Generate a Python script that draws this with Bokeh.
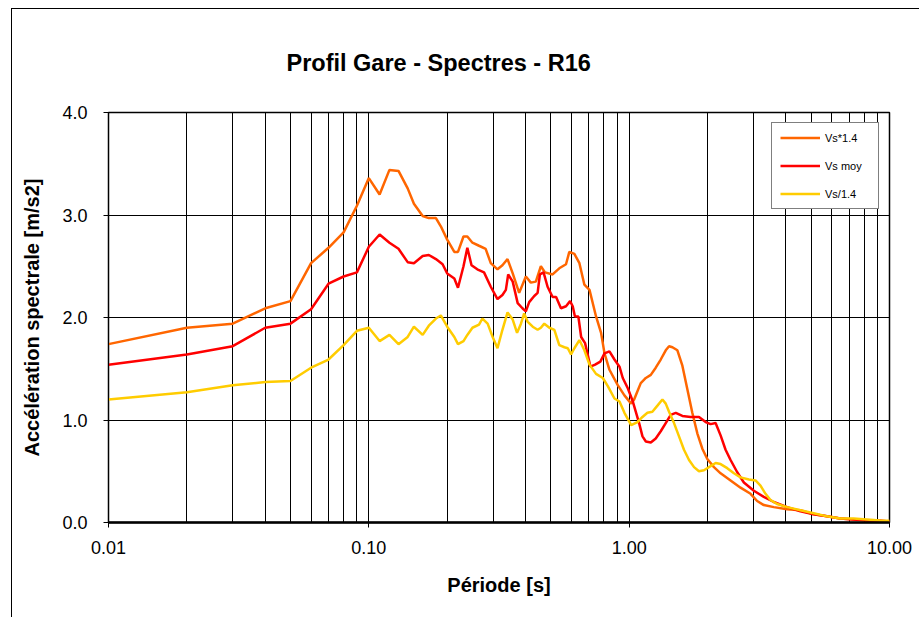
from bokeh.plotting import figure
from bokeh.models import (Range1d, FixedTicker, PrintfTickFormatter, Legend,
                          LegendItem, Title)
from bokeh.embed import file_html
from bokeh.resources import INLINE

# ---------------- data ----------------
x_ticks = [0.01, 0.1, 1.0, 10.0]
y_ticks = [0.0, 1.0, 2.0, 3.0, 4.0]

names = ["Vs*1.4", "Vs moy", "Vs/1.4"]
colors = ["#FF6600", "#FF0000", "#FFCC00"]

orange_T = [0.01, 0.02, 0.03, 0.04, 0.05, 0.06, 0.07, 0.08, 0.09, 0.10, 0.11, 0.12, 0.13,
            0.141, 0.149, 0.161, 0.170, 0.181, 0.189, 0.200, 0.213, 0.220, 0.231,
            0.239, 0.250, 0.265, 0.281, 0.294, 0.312, 0.326, 0.341, 0.357, 0.378,
            0.401, 0.419, 0.438, 0.458, 0.475, 0.508, 0.539, 0.572, 0.589, 0.616,
            0.644, 0.673, 0.704, 0.746, 0.780, 0.804, 0.840, 0.904, 0.959, 1.018,
            1.045, 1.076, 1.108, 1.159, 1.211, 1.265, 1.322, 1.382, 1.423, 1.466,
            1.532, 1.601, 1.673, 1.748, 1.827, 1.910, 1.996, 2.117, 2.245, 2.452,
            2.678, 2.926, 3.102, 3.290, 3.594, 4.043, 4.546, 5.115, 5.754, 6.471,
            7.280, 8.189, 9.210, 10.0]
orange_A = [1.74, 1.90, 1.94, 2.09, 2.16, 2.53, 2.68, 2.83, 3.09, 3.36, 3.20, 3.44, 3.43,
            3.26, 3.11, 2.99, 2.97, 2.97, 2.89, 2.76, 2.64, 2.64, 2.79,
            2.79, 2.73, 2.70, 2.67, 2.53, 2.47, 2.51, 2.57, 2.43, 2.24,
            2.40, 2.34, 2.35, 2.50, 2.44, 2.42, 2.48, 2.52, 2.64, 2.62,
            2.53, 2.32, 2.27, 2.01, 1.85, 1.65, 1.49, 1.34, 1.24, 1.16,
            1.20, 1.28, 1.36, 1.41, 1.44, 1.51, 1.59, 1.68, 1.72, 1.71,
            1.68, 1.53, 1.30, 1.07, 0.87, 0.72, 0.62, 0.54, 0.48, 0.41,
            0.34, 0.28, 0.21, 0.17, 0.15, 0.13, 0.12, 0.08, 0.06, 0.04,
            0.03, 0.02, 0.016, 0.01]

red_T = [0.01, 0.02, 0.03, 0.04, 0.05, 0.06, 0.07, 0.08, 0.09, 0.10, 0.11, 0.12, 0.13,
         0.141, 0.149, 0.161, 0.170, 0.181, 0.192, 0.200, 0.213, 0.220, 0.231,
         0.239, 0.248, 0.261, 0.277, 0.294, 0.312, 0.326, 0.336, 0.343, 0.357,
         0.373, 0.389, 0.401, 0.413, 0.432, 0.445, 0.454, 0.469, 0.486, 0.508,
         0.524, 0.547, 0.572, 0.593, 0.607, 0.619, 0.638, 0.654, 0.677, 0.710,
         0.740, 0.775, 0.804, 0.840, 0.878, 0.918, 0.945, 0.988, 1.033,
         1.092, 1.125, 1.159, 1.211, 1.265, 1.322, 1.382, 1.444, 1.510, 1.601,
         1.722, 1.854, 1.967, 2.055, 2.148, 2.245, 2.346, 2.452, 2.601, 2.758,
         3.013, 3.290, 3.594, 4.043, 4.546, 5.115, 5.754, 6.471, 7.280, 8.189,
         9.210, 10.0]
red_A = [1.54, 1.64, 1.72, 1.90, 1.94, 2.08, 2.33, 2.40, 2.44, 2.69, 2.81, 2.73, 2.67,
         2.54, 2.53, 2.60, 2.61, 2.57, 2.52, 2.43, 2.38, 2.29, 2.50,
         2.68, 2.51, 2.47, 2.44, 2.30, 2.18, 2.22, 2.27, 2.42, 2.35,
         2.14, 2.09, 2.06, 2.15, 2.21, 2.24, 2.42, 2.44, 2.30, 2.20,
         2.20, 2.09, 2.11, 2.16, 2.11, 2.01, 2.01, 1.81, 1.75, 1.52,
         1.54, 1.57, 1.65, 1.67, 1.59, 1.52, 1.41, 1.31, 1.18,
         0.97, 0.84, 0.79, 0.78, 0.82, 0.89, 0.97, 1.05, 1.07, 1.04,
         1.03, 1.03, 0.98, 0.96, 0.97, 0.85, 0.71, 0.61, 0.49, 0.39,
         0.31, 0.25, 0.20, 0.15, 0.11, 0.08, 0.06, 0.04, 0.03, 0.02,
         0.016, 0.01]

yellow_T = [0.01, 0.02, 0.03, 0.04, 0.05, 0.06, 0.07, 0.08, 0.09, 0.10, 0.11, 0.12, 0.13,
            0.141, 0.149, 0.161, 0.170, 0.181, 0.189, 0.200, 0.213, 0.220, 0.231,
            0.239, 0.250, 0.265, 0.273, 0.286, 0.299, 0.312, 0.326, 0.341, 0.357,
            0.371, 0.384, 0.395, 0.407, 0.426, 0.445, 0.458, 0.472, 0.494, 0.516,
            0.539, 0.564, 0.581, 0.598, 0.616, 0.644, 0.673, 0.704, 0.746, 0.792,
            0.828, 0.878, 0.918, 0.959, 1.018,
            1.076, 1.125, 1.175, 1.228, 1.284, 1.342, 1.382, 1.423, 1.487, 1.554,
            1.624, 1.698, 1.775, 1.854, 1.938, 2.055, 2.148, 2.245, 2.381, 2.526,
            2.678, 2.883, 3.057, 3.195, 3.340, 3.490, 3.701, 4.043, 4.546, 5.115,
            5.754, 6.471, 7.280, 8.189, 9.210, 10.0]
yellow_A = [1.20, 1.27, 1.34, 1.37, 1.38, 1.51, 1.59, 1.73, 1.87, 1.90, 1.77, 1.83, 1.74,
            1.81, 1.91, 1.83, 1.92, 1.99, 2.02, 1.91, 1.81, 1.74, 1.77,
            1.83, 1.90, 1.93, 1.99, 1.94, 1.81, 1.70, 1.88, 2.05, 1.98,
            1.85, 1.94, 2.04, 1.96, 1.91, 1.88, 1.90, 1.94, 1.90, 1.88,
            1.73, 1.71, 1.70, 1.64, 1.70, 1.78, 1.68, 1.54, 1.45, 1.41,
            1.33, 1.21, 1.18, 1.07, 0.95,
            0.98, 1.03, 1.07, 1.08, 1.14, 1.20, 1.16, 1.08, 0.97, 0.84,
            0.71, 0.61, 0.54, 0.50, 0.51, 0.55, 0.58, 0.57, 0.53, 0.48,
            0.44, 0.42, 0.41, 0.36, 0.28, 0.22, 0.18, 0.15, 0.12, 0.09,
            0.06, 0.04, 0.04, 0.03, 0.02, 0.016]

series = [(orange_T, orange_A), (red_T, red_A), (yellow_T, yellow_A)]
title_text = "Profil Gare - Spectres - R16"

FONT = "Liberation Sans"

p = figure(x_axis_type="log",
           x_range=Range1d(x_ticks[0], x_ticks[-1]),
           y_range=Range1d(y_ticks[0], y_ticks[-1]),
           frame_width=781, frame_height=410,
           min_border_left=96, min_border_right=30,
           min_border_top=103, min_border_bottom=95,
           output_backend="svg", toolbar_location=None)
p.margin = (8, 0, 0, 11)
p.styles = {"border-left": "1px solid black", "border-top": "1px solid black"}
p.background_fill_color = "white"
p.border_fill_color = "white"
p.outline_line_color = "black"
p.outline_line_width = 1.5

p.add_layout(Title(text=title_text, align="left", offset=178,
                   text_font=FONT, text_font_style="bold", text_font_size="23.5px",
                   text_color="black", standoff=74), "above")

minor = [m * d for d in x_ticks[:-1] for m in range(2, 10)]
p.xaxis.ticker = FixedTicker(ticks=x_ticks, minor_ticks=minor)
p.xaxis.formatter = PrintfTickFormatter(format="%.2f")
p.yaxis.ticker = FixedTicker(ticks=y_ticks)
p.yaxis.formatter = PrintfTickFormatter(format="%.1f")

for ax in (p.xaxis, p.yaxis):
    ax.major_label_text_font = FONT
    ax.major_label_text_font_size = "18px"
    ax.major_label_text_color = "black"
    ax.axis_label_text_font = FONT
    ax.axis_label_text_font_style = "bold"
    ax.axis_label_text_font_size = "20px"
    ax.axis_label_text_color = "black"
    ax.major_tick_in = 0
    ax.major_tick_out = 5
    ax.major_tick_line_color = "black"
    ax.minor_tick_line_color = None
    ax.axis_line_color = "black"

p.xaxis.axis_line_width = 2.5
p.xaxis.axis_label = "Période [s]"
p.yaxis.axis_label = "Accélération spectrale [m/s2]"
p.xaxis.major_label_standoff = 13
p.yaxis.major_label_standoff = 16
p.xaxis.axis_label_standoff = 17
p.yaxis.axis_label_standoff = 16

p.xgrid.grid_line_color = "black"
p.xgrid.grid_line_width = 1
p.xgrid.minor_grid_line_color = "black"
p.xgrid.minor_grid_line_width = 1
p.ygrid.grid_line_color = "black"
p.ygrid.grid_line_width = 1

items = []
for (t, a), c, n in zip(series, colors, names):
    r = p.line(t, a, line_color=c, line_width=2.5)
    items.append(LegendItem(label=n, renderers=[r]))

legend = Legend(items=items, location="top_right", margin=10, padding=8,
                spacing=15, glyph_width=40, glyph_height=13, label_height=13,
                label_width=45, label_standoff=5,
                label_text_font=FONT, label_text_font_size="11px",
                label_text_color="black",
                border_line_color="black", border_line_width=1,
                background_fill_color="white", background_fill_alpha=1.0)
p.add_layout(legend)

open("out.html", "w").write(file_html(p, INLINE))
